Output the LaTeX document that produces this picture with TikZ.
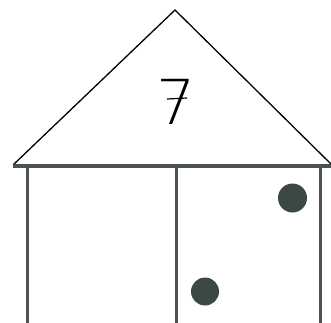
\documentclass[tikz,border=0pt]{standalone}
\usepackage{fontspec}
\newfontfamily\thinfont{DejaVu Sans ExtraLight}
\definecolor{wallgray}{HTML}{4A5351}
\definecolor{dotgray}{HTML}{3C4846}
\begin{document}
\begin{tikzpicture}[x=1pt,y=1pt,wall/.style={wallgray,line width=3pt},dot/.style={fill=dotgray}]
\useasboundingbox (0,0) rectangle (331,322);
\draw[line width=1.3pt,line join=miter] (13,157)--(175,312)--(332,157);
\draw[wallgray,line width=4pt] (13,156)--(331,156);
\draw[wall] (27.5,156)--(27.5,-2);
\draw[wall] (176,156)--(176,-2);
\draw[wall] (320.5,156)--(320.5,-2);
\fill[dot] (292.5,124) circle (14.5);
\fill[dot] (205,30.5) circle (14);
\node[font=\thinfont\fontsize{62}{62}\selectfont,inner sep=0pt] (seven) at (176,220) {7};
\draw[line width=1.2pt] (167,223)--(187,224);
\end{tikzpicture}
\end{document}
